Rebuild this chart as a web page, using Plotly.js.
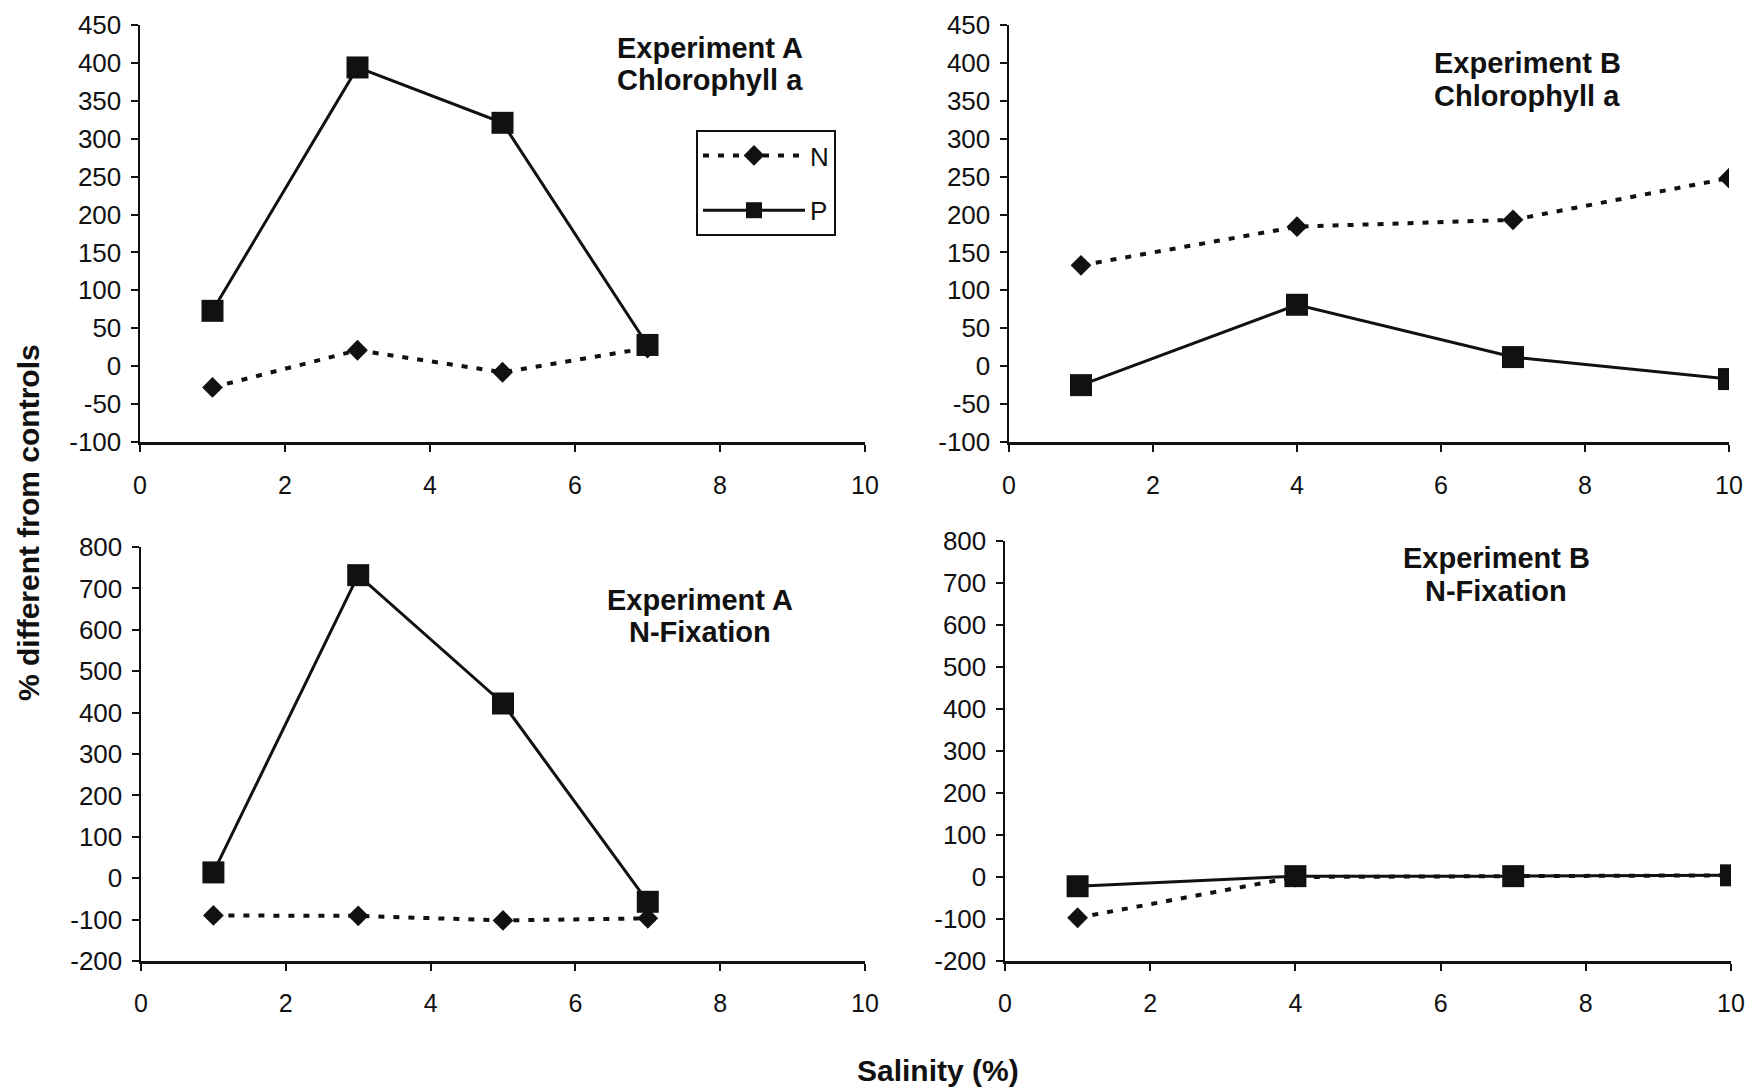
<!DOCTYPE html>
<html>
<head>
<meta charset="utf-8">
<script src="https://cdn.plot.ly/plotly-3.0.1.min.js"></script>
<style>html,body{margin:0;padding:0;background:#fff;}#chart{width:1750px;height:1088px;}</style>
</head>
<body>
<div id="chart"></div>
<script>
// Salinity values (x)
const salinityA = [1, 3, 5, 7];
const salinityB = [1, 4, 7, 10];

// Experiment A, Chlorophyll a (% different from controls)
const chlA_N = [-28, 21, -8, 24];
const chlA_P = [73, 394, 321, 28];

// Experiment B, Chlorophyll a
const chlB_N = [133, 184, 193, 248];
const chlB_P = [-25, 81, 12, -17];

// Experiment A, N-Fixation
const nfixA_N = [-90, -91, -102, -97];
const nfixA_P = [14, 732, 422, -57];

// Experiment B, N-Fixation
const nfixB_N = [-97, 0, 2, 4];
const nfixB_P = [-22, 2, 2, 4];

const seriesNames = ['N', 'P'];
const titleLine1 = ['Experiment A', 'Experiment B', 'Experiment A', 'Experiment B'];
const titleLine2 = ['Chlorophyll a', 'Chlorophyll a', 'N-Fixation', 'N-Fixation'];
const xTicks = [0, 2, 4, 6, 8, 10];
const yTicksChl = [-100, -50, 0, 50, 100, 150, 200, 250, 300, 350, 400, 450];
const yTicksNfix = [-200, -100, 0, 100, 200, 300, 400, 500, 600, 700, 800];
const yTitle = '% different from controls';
const xTitle = 'Salinity (%)';

const INK = '#111111';
const FONT = 'Liberation Sans, Arial, sans-serif';

function nTrace(x, y, ax, show) {
  return {
    x: x, y: y, xaxis: 'x' + ax, yaxis: 'y' + ax, name: seriesNames[0],
    legendgroup: 'n', showlegend: show,
    type: 'scatter', mode: 'lines+markers',
    line: {color: INK, width: 4, dash: '6px,9px'},
    marker: {symbol: 'diamond', size: 16, color: INK}
  };
}
function pTrace(x, y, ax, show) {
  return {
    x: x, y: y, xaxis: 'x' + ax, yaxis: 'y' + ax, name: seriesNames[1],
    legendgroup: 'p', showlegend: show,
    type: 'scatter', mode: 'lines+markers',
    line: {color: INK, width: 3},
    marker: {symbol: 'square', size: 22, color: INK}
  };
}

const data = [
  nTrace(salinityA, chlA_N, '', true),  pTrace(salinityA, chlA_P, '', true),
  nTrace(salinityB, chlB_N, '2', false), pTrace(salinityB, chlB_P, '2', false),
  nTrace(salinityA, nfixA_N, '3', false), pTrace(salinityA, nfixA_P, '3', false),
  nTrace(salinityB, nfixB_N, '4', false), pTrace(salinityB, nfixB_P, '4', false)
];

function xAxis(domain, anchor, standoff) {
  return {
    domain: domain, anchor: anchor, range: [0, 10],
    tickvals: xTicks, ticktext: xTicks.map(String),
    showline: true, linecolor: INK, linewidth: 2.5, zeroline: false, showgrid: false,
    ticks: 'outside', ticklen: 7, tickwidth: 2, tickcolor: INK,
    ticklabelstandoff: standoff,
    tickfont: {family: FONT, size: 25, color: INK}
  };
}
function yAxis(domain, anchor, range, ticks) {
  return {
    domain: domain, anchor: anchor, range: range,
    tickvals: ticks, ticktext: ticks.map(String),
    showline: true, linecolor: INK, linewidth: 2.5, zeroline: false, showgrid: false,
    ticks: 'outside', ticklen: 7, tickwidth: 2, tickcolor: INK,
    ticklabelstandoff: 4,
    tickfont: {family: FONT, size: 26, color: INK}
  };
}

const W = 1750, H = 1088;
const px = v => v / W;
const py = v => 1 - v / H;

function label(text, x, y, size, extra) {
  return Object.assign({
    text: text, x: px(x), y: py(y), xref: 'paper', yref: 'paper', showarrow: false,
    xanchor: 'center', yanchor: 'middle',
    font: {family: FONT, size: size, color: INK, weight: 'bold'}
  }, extra || {});
}

const titlePos = [[710, 48, 80], [1527, 63, 96], [700, 600, 632], [1496, 558, 591]];
const annotations = [];
titlePos.forEach((p, i) => {
  annotations.push(label(titleLine1[i], p[0], p[1], 29));
  annotations.push(label(titleLine2[i], p[0], p[2], 29));
});
annotations.push(label(yTitle, 28, 523, 30, {textangle: -90}));
annotations.push(label(xTitle, 938, 1070, 30));

const layout = {
  width: W, height: H,
  margin: {l: 0, r: 0, t: 0, b: 0},
  paper_bgcolor: '#ffffff', plot_bgcolor: '#ffffff',
  font: {family: FONT, color: INK},
  xaxis: xAxis([px(140), px(865)], 'y', 12),
  yaxis: yAxis([py(442), py(25)], 'x', [-100, 450], yTicksChl),
  xaxis2: xAxis([px(1009), px(1729)], 'y2', 12),
  yaxis2: yAxis([py(442), py(25)], 'x2', [-100, 450], yTicksChl),
  xaxis3: xAxis([px(141), px(865)], 'y3', 11),
  yaxis3: yAxis([py(961), py(547)], 'x3', [-200, 800], yTicksNfix),
  xaxis4: xAxis([px(1005), px(1731)], 'y4', 11),
  yaxis4: yAxis([py(961), py(541)], 'x4', [-200, 800], yTicksNfix),
  showlegend: true,
  legend: {
    x: px(696), y: py(130), xanchor: 'left', yanchor: 'top',
    bgcolor: '#ffffff', bordercolor: INK, borderwidth: 2,
    font: {family: FONT, size: 26, color: INK},
    itemwidth: 102, tracegroupgap: 18, traceorder: 'grouped',
    entrywidth: 45, entrywidthmode: 'pixels'
  },
  annotations: annotations
};

Plotly.newPlot('chart', data, layout, {staticPlot: true, displayModeBar: false});
</script>
</body>
</html>
